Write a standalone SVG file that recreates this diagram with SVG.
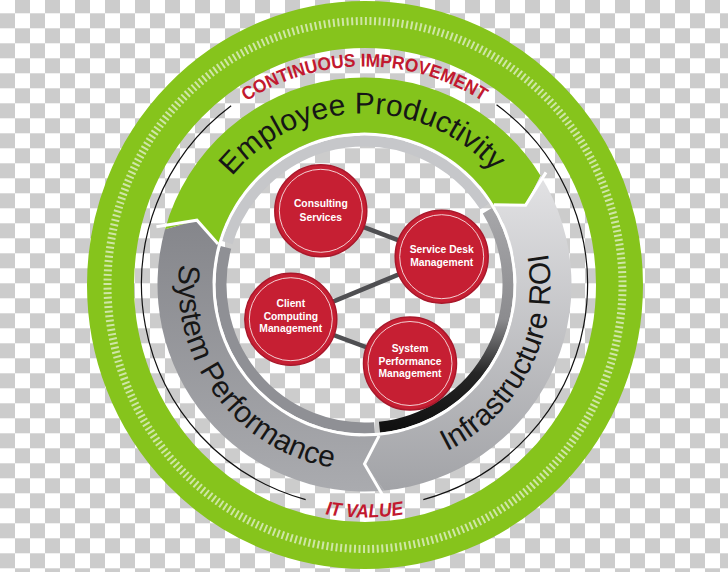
<svg xmlns="http://www.w3.org/2000/svg" width="728" height="572" viewBox="0 0 728 572">
<defs>
<pattern id="chk" x="0" y="-1.7" width="30" height="30" patternUnits="userSpaceOnUse">
<rect width="30" height="30" fill="#ffffff"/>
<rect x="15" y="0" width="15" height="15" fill="#cccccc"/>
<rect x="0" y="15" width="15" height="15" fill="#cccccc"/>
</pattern>
<linearGradient id="gSys" x1="0" y1="0" x2="0" y2="1">
<stop offset="0" stop-color="#85868b"/>
<stop offset="1" stop-color="#aaabaf"/>
</linearGradient>
<linearGradient id="gInf" x1="0" y1="0" x2="0" y2="1">
<stop offset="0" stop-color="#e2e2e4"/>
<stop offset="1" stop-color="#a2a3a7"/>
</linearGradient>
<linearGradient id="gRingInf" x1="0" y1="0" x2="0" y2="1">
<stop offset="0" stop-color="#a6a6a9"/>
<stop offset="0.5" stop-color="#8c8c8f"/>
<stop offset="0.75" stop-color="#262626"/>
<stop offset="1" stop-color="#111111"/>
</linearGradient>
<path id="pEmp" d="M 202.82 228.83 A 171 171 0 0 1 524.14 223.22"/>
<path id="pCont" d="M 159.65 209.94 A 218 218 0 0 1 569.35 209.94"/>
<path id="pSys" d="M 217.93 169.99 A 186 186 0 0 0 434.18 456.96"/>
<path id="pInf" d="M 325.83 466.44 A 186 186 0 0 0 488.96 146.28"/>
<path id="pIT" d="M 248 486.28 A 233 233 0 0 0 481 486.28"/>
</defs>
<style>
.band-text{font-family:"Liberation Sans",Arial,sans-serif;font-size:30px;fill:#161616}
.red-title{font-family:"Liberation Sans",Arial,sans-serif;font-weight:bold;fill:#c2192f}
.disk{fill:#c61f33;stroke:#a8182b;stroke-width:1.5}
.disk-inner{fill:none;stroke:#f3cfd2;stroke-width:1}
.node-text{font-family:"Liberation Sans",Arial,sans-serif;font-weight:bold;font-size:10.3px;fill:#ffffff;text-anchor:middle}
.conn{stroke:#4f4f52;stroke-width:4.5;stroke-linecap:round}
.thin{fill:none;stroke:#111111;stroke-width:1.2}
.ring{fill:none;stroke-width:11}
.sep{fill:none;stroke:#ffffff;stroke-width:3;stroke-linejoin:miter}
</style>

<rect id="background" x="0" y="0" width="728" height="572" fill="url(#chk)"/>

<g id="outer-ring">
<ellipse cx="365" cy="285" rx="254.5" ry="260.5" fill="none" stroke="#86c41c" stroke-width="47"/>
<ellipse cx="365" cy="285" rx="257.5" ry="264" fill="none" stroke="#cfe6a6" stroke-width="8" stroke-dasharray="2 2.6"/>
</g>

<g id="thin-arcs">
<path class="thin" d="M 496.55 104.80 A 223 223 0 0 1 423.34 499.60"/>
<path class="thin" d="M 305.66 499.60 A 223 223 0 0 1 231.13 105.78"/>
</g>

<g id="labels-outer">
<text class="red-title" font-size="18.5"><textPath href="#pCont" startOffset="50%" text-anchor="middle" textLength="250" lengthAdjust="spacingAndGlyphs">CONTINUOUS IMPROVEMENT</textPath></text>
<text class="red-title" font-size="19" font-style="italic"><textPath href="#pIT" startOffset="50%" text-anchor="middle" textLength="79" lengthAdjust="spacingAndGlyphs">IT VALUE</textPath></text>
</g>

<g id="inner-ring">
<path class="ring" stroke="#8f9095" d="M 374.51 427.65 A 143.5 143.5 0 0 1 225.89 247.36"/>
<path class="ring" stroke="#c6c7ca" d="M 227.27 242.54 A 143.5 143.5 0 0 1 484.85 206.34"/>
<path class="ring" stroke="url(#gRingInf)" d="M 487.50 210.59 A 143.5 143.5 0 0 1 379.50 427.21"/>
<circle cx="364.5" cy="284.5" r="150.5" fill="none" stroke="#ffffff" stroke-width="3"/>
</g>

<g id="band-system-performance">
<path fill="url(#gSys)" d="M 384.34 490.55 A 207 207 0 0 1 165.03 229.18 L 196.92 220.17 L 218.03 243.88 A 152 152 0 0 0 379.07 435.80 L 364.5 464 Z"/>
<text class="band-text"><textPath href="#pSys" startOffset="50%" text-anchor="middle">System Performance</textPath></text>
</g>

<g id="band-employee-productivity">
<path fill="#84c41c" d="M 165.03 229.18 A 207 207 0 0 1 540.61 175.73 L 525.56 205.25 L 493.82 204.63 A 152 152 0 0 0 218.03 243.88 L 196.92 220.17 Z"/>
<text class="band-text" font-size="29.5"><textPath href="#pEmp" startOffset="50%" text-anchor="middle">Employee Productivity</textPath></text>
</g>

<g id="band-infrastructure-roi">
<path fill="url(#gInf)" d="M 540.61 175.73 A 207 207 0 0 1 384.34 490.55 L 364.5 464 L 379.07 435.80 A 152 152 0 0 0 493.82 204.63 L 525.56 205.25 Z"/>
<text class="band-text" font-size="30.5"><textPath href="#pInf" startOffset="50%" text-anchor="middle">Infrastructure ROI</textPath></text>
</g>

<g id="band-separators">
<polyline class="sep" points="385.2,499.5 364.5,464 379.07,435.80"/>
<polyline class="sep" points="156.4,226.7 196.92,220.17 218.03,243.88"/>
<polyline class="sep" points="546.0,172.4 525.56,205.25 493.82,204.63"/>
</g>

<g id="connectors">
<line class="conn" x1="320.8" y1="210.8" x2="441.7" y2="256.7"/>
<line class="conn" x1="290.8" y1="319.2" x2="441.7" y2="256.7"/>
<line class="conn" x1="290.8" y1="319.2" x2="410" y2="363.5"/>
</g>

<g id="node-consulting-services">
<circle class="disk" cx="320.8" cy="210.8" r="46"/>
<circle class="disk-inner" cx="320.8" cy="210.8" r="41.5"/>
<text class="node-text"><tspan x="320.8" y="207">Consulting</tspan><tspan x="320.8" y="220.5">Services</tspan></text>
</g>

<g id="node-service-desk-management">
<circle class="disk" cx="441.7" cy="256.7" r="46.5"/>
<circle class="disk-inner" cx="441.7" cy="256.7" r="42"/>
<text class="node-text"><tspan x="441.7" y="253">Service Desk</tspan><tspan x="441.7" y="265.5">Management</tspan></text>
</g>

<g id="node-client-computing-management">
<circle class="disk" cx="290.8" cy="319.2" r="46"/>
<circle class="disk-inner" cx="290.8" cy="319.2" r="41.5"/>
<text class="node-text"><tspan x="290.8" y="306.5">Client</tspan><tspan x="290.8" y="319.5">Computing</tspan><tspan x="290.8" y="332">Management</tspan></text>
</g>

<g id="node-system-performance-management">
<circle class="disk" cx="410" cy="363.5" r="46.5"/>
<circle class="disk-inner" cx="410" cy="363.5" r="42"/>
<text class="node-text"><tspan x="410" y="351.5">System</tspan><tspan x="410" y="364.5">Performance</tspan><tspan x="410" y="377">Management</tspan></text>
</g>
</svg>
